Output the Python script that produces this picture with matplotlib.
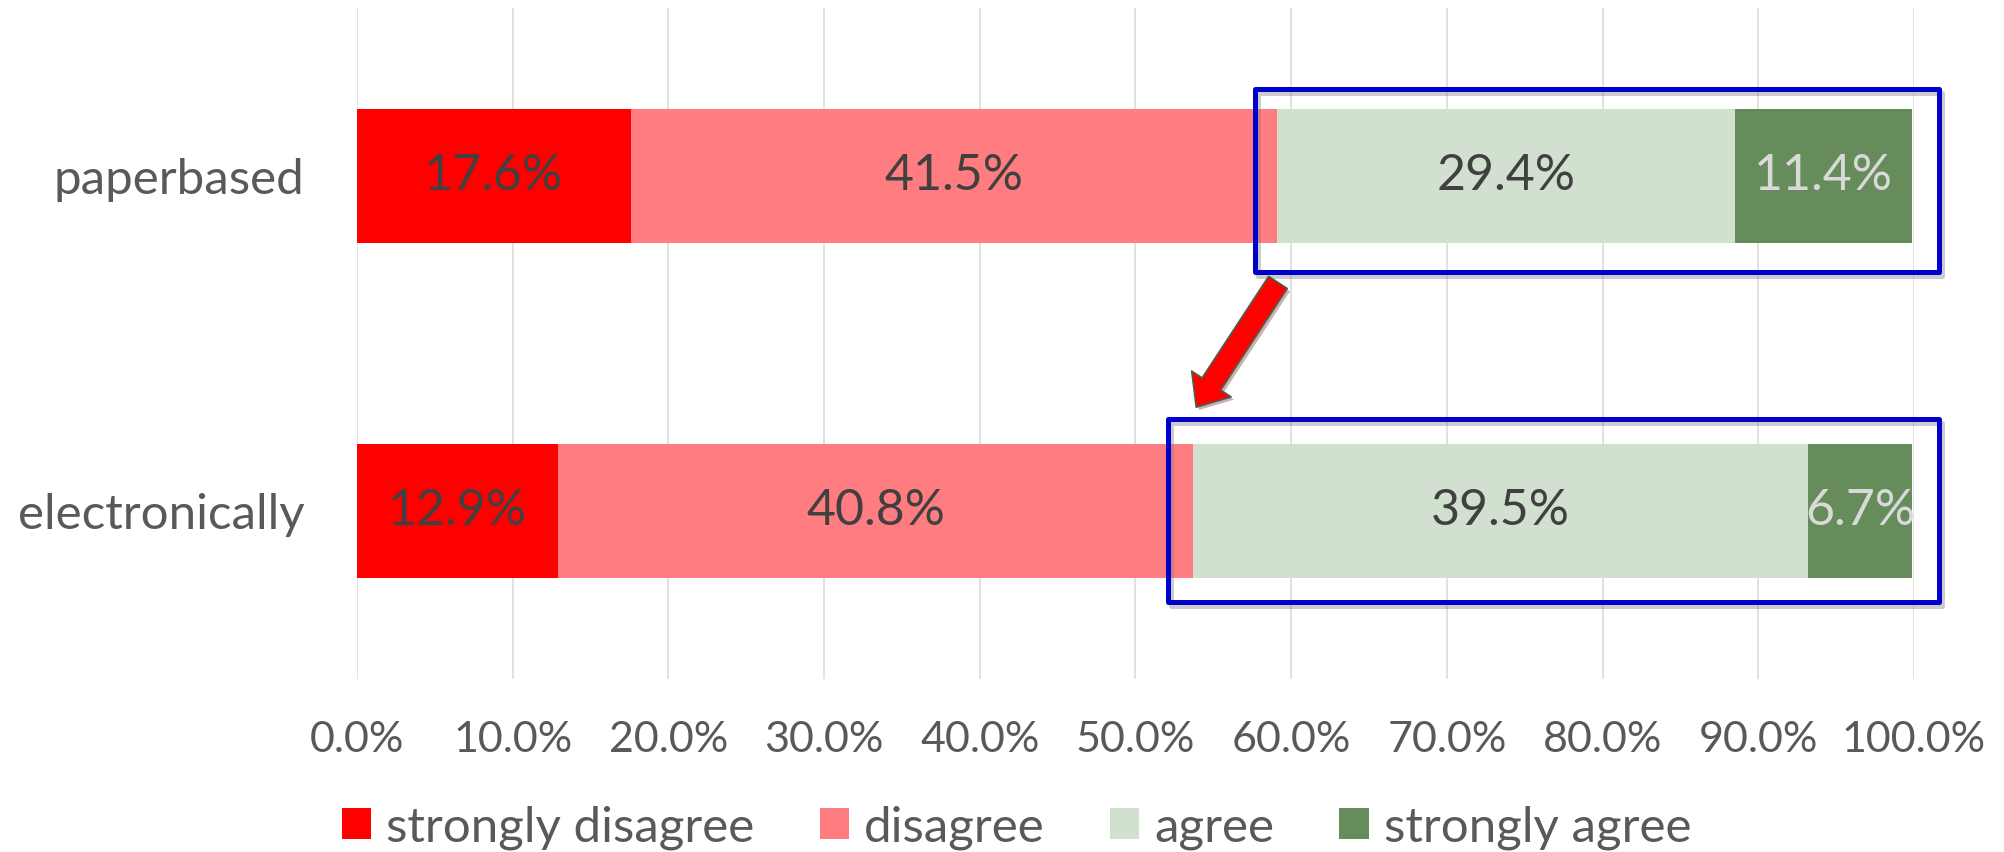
import matplotlib
matplotlib.use("Agg")
import matplotlib.pyplot as plt
import matplotlib.patheffects as pe
from matplotlib.patches import Rectangle, FancyArrowPatch, Patch
import numpy as np

# survey answers, percent per group
categories = ["paperbased", "electronically"]
levels = ["strongly disagree", "disagree", "agree", "strongly agree"]
strongly_disagree = [17.6, 12.9]
disagree = [41.5, 40.8]
agree = [29.4, 39.5]
strongly_agree = [11.4, 6.7]

colors = ["#FF0000", "#FF7C80", "#D2E0CF", "#658C5A"]
label_colors = ["#404040", "#404040", "#404040", "#D9D9D9"]

plt.rcParams["font.family"] = ["Lato", "DejaVu Sans"]

fig = plt.figure(figsize=(20.04, 8.52), dpi=100)
ax = fig.add_axes([0.1781, 0.2031, 0.7770, 0.7875])

y = np.arange(len(categories))
left = np.zeros(len(categories))
for name, vals, c, lc in zip(levels, [strongly_disagree, disagree, agree, strongly_agree], colors, label_colors):
    bars = ax.barh(y, vals, left=left, height=0.4, color=c, label=name)
    ax.bar_label(bars, labels=["%.1f%%" % v for v in vals], label_type="center",
                 color=lc, fontsize=36)
    left = left + np.array(vals)

ax.set_xlim(0, 100)
ax.set_ylim(1.5, -0.5)
ax.set_xticks(np.arange(0, 101, 10))
ax.set_xticklabels(["%.1f%%" % t for t in np.arange(0, 101, 10)])
ax.set_yticks(y)
ax.set_yticklabels(categories)
ax.tick_params(axis="x", length=0, pad=30, labelsize=31, labelcolor="#595959")
ax.tick_params(axis="y", length=0, pad=38, labelsize=35.5, labelcolor="#595959")
ax.grid(axis="x", color="#D9D9D9", linewidth=1.1)
ax.set_axisbelow(True)
for s in ax.spines.values():
    s.set_visible(False)

# blue highlight boxes
shadow = [pe.SimpleLineShadow(offset=(2, -3), shadow_color="gray", alpha=0.4), pe.Normal()]
for x0, x1, y0, y1 in [(57.7, 101.6, -0.259, 0.286), (52.1, 101.6, 0.726, 1.271)]:
    r = Rectangle((x0, y0), x1 - x0, y1 - y0, fill=False, edgecolor="#0000CC",
                  linewidth=3.6, joinstyle="round", clip_on=False, zorder=5)
    r.set_path_effects(shadow)
    ax.add_patch(r)

# red arrow between boxes
arr = FancyArrowPatch((59.15, 0.318), (53.9, 0.69),
                      arrowstyle="simple,head_length=20,head_width=34,tail_width=16",
                      mutation_scale=1, shrinkA=0, shrinkB=0,
                      facecolor="#FF0000", edgecolor="#4F5F4F", linewidth=1.2,
                      clip_on=False, zorder=6)
arr.set_path_effects([pe.SimplePatchShadow(offset=(2, -2), alpha=0.3), pe.Normal()])
ax.add_patch(arr)

handles = [Patch(facecolor=c, edgecolor="none") for c in colors]
fig.legend(handles, levels, loc="center", bbox_to_anchor=(0.5072, 0.029), ncol=4,
           frameon=False, fontsize=35.5, labelcolor="#595959",
           handlelength=0.6, handleheight=0.6, handletextpad=0.3, columnspacing=1.32)

fig.savefig("out.png", dpi=100)
